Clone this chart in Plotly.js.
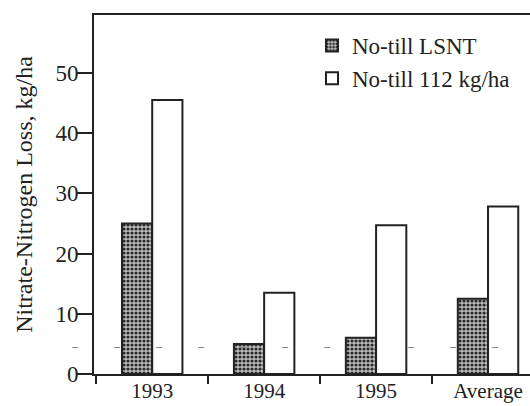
<!DOCTYPE html>
<html>
<head>
<meta charset="utf-8">
<script src="https://cdn.plot.ly/plotly-3.0.1.min.js"></script>
<style>html,body{margin:0;padding:0;background:#fff;}#chart{width:530px;height:406px;}</style>
</head>
<body>
<div id="chart"></div>
<script>
const categories = ['1993', '1994', '1995', 'Average'];
const lsntValues = [25, 5, 6, 12.5];
const n112Values = [45.5, 13.5, 24.7, 27.8];
const seriesNames = ['No-till LSNT', 'No-till 112 kg/ha'];
const yTickVals = [0, 10, 20, 30, 40, 50];
const refLineValue = 4.4;

const FONT = '"Liberation Serif", "Times New Roman", serif';
const INK = '#222';

const traces = [
  {
    type: 'bar', name: seriesNames[0], x: categories, y: lsntValues,
    marker: {color: '#b0b0b0', line: {color: INK, width: 2},
      pattern: {shape: '.', fgcolor: '#2a2a2a', bgcolor: '#bdbdbd', size: 4, solidity: 0.5}}
  },
  {
    type: 'bar', name: seriesNames[1], x: categories, y: n112Values,
    marker: {color: '#ffffff', line: {color: INK, width: 2}}
  }
];

const layout = {
  width: 530, height: 406,
  margin: {l: 94, r: 0, t: 15, b: 32},
  paper_bgcolor: '#fff', plot_bgcolor: '#fff',
  font: {family: FONT, size: 23, color: INK},
  barmode: 'group', bargap: 0.46, bargroupgap: 0,
  showlegend: true,
  legend: {x: 0.5, xanchor: 'left', y: 0.975, yanchor: 'top', bgcolor: 'rgba(0,0,0,0)',
    font: {family: FONT, size: 23, color: INK}, tracegroupgap: 0, itemwidth: 30},
  xaxis: {
    type: 'category', range: [-0.52, 3.375], showgrid: false, zeroline: false,
    showline: true, linecolor: INK, linewidth: 2, mirror: true,
    ticks: 'outside', tickson: 'boundaries', ticklen: 8, tickwidth: 2, tickcolor: INK,
    tickfont: {family: FONT, size: 21, color: INK}, ticklabelstandoff: -3
  },
  yaxis: {
    range: [0, 59.6], showgrid: false, zeroline: false,
    showline: true, linecolor: INK, linewidth: 2,
    tickvals: yTickVals, ticks: 'outside', ticklen: 15, tickwidth: 2, tickcolor: INK,
    tickfont: {family: FONT, size: 23, color: INK}, ticklabelstandoff: -6,
    title: {text: 'Nitrate-Nitrogen Loss, kg/ha', font: {family: FONT, size: 24, color: INK}, standoff: 16}
  },
  shapes: [
    {type: 'line', xref: 'paper', yref: 'y', x0: -0.05, x1: 1, y0: refLineValue, y1: refLineValue,
     line: {color: '#888', width: 1, dash: '6px,36px'}, layer: 'above'}
  ]
};

Plotly.newPlot('chart', traces, layout, {staticPlot: true, displayModeBar: false});
</script>
</body>
</html>
